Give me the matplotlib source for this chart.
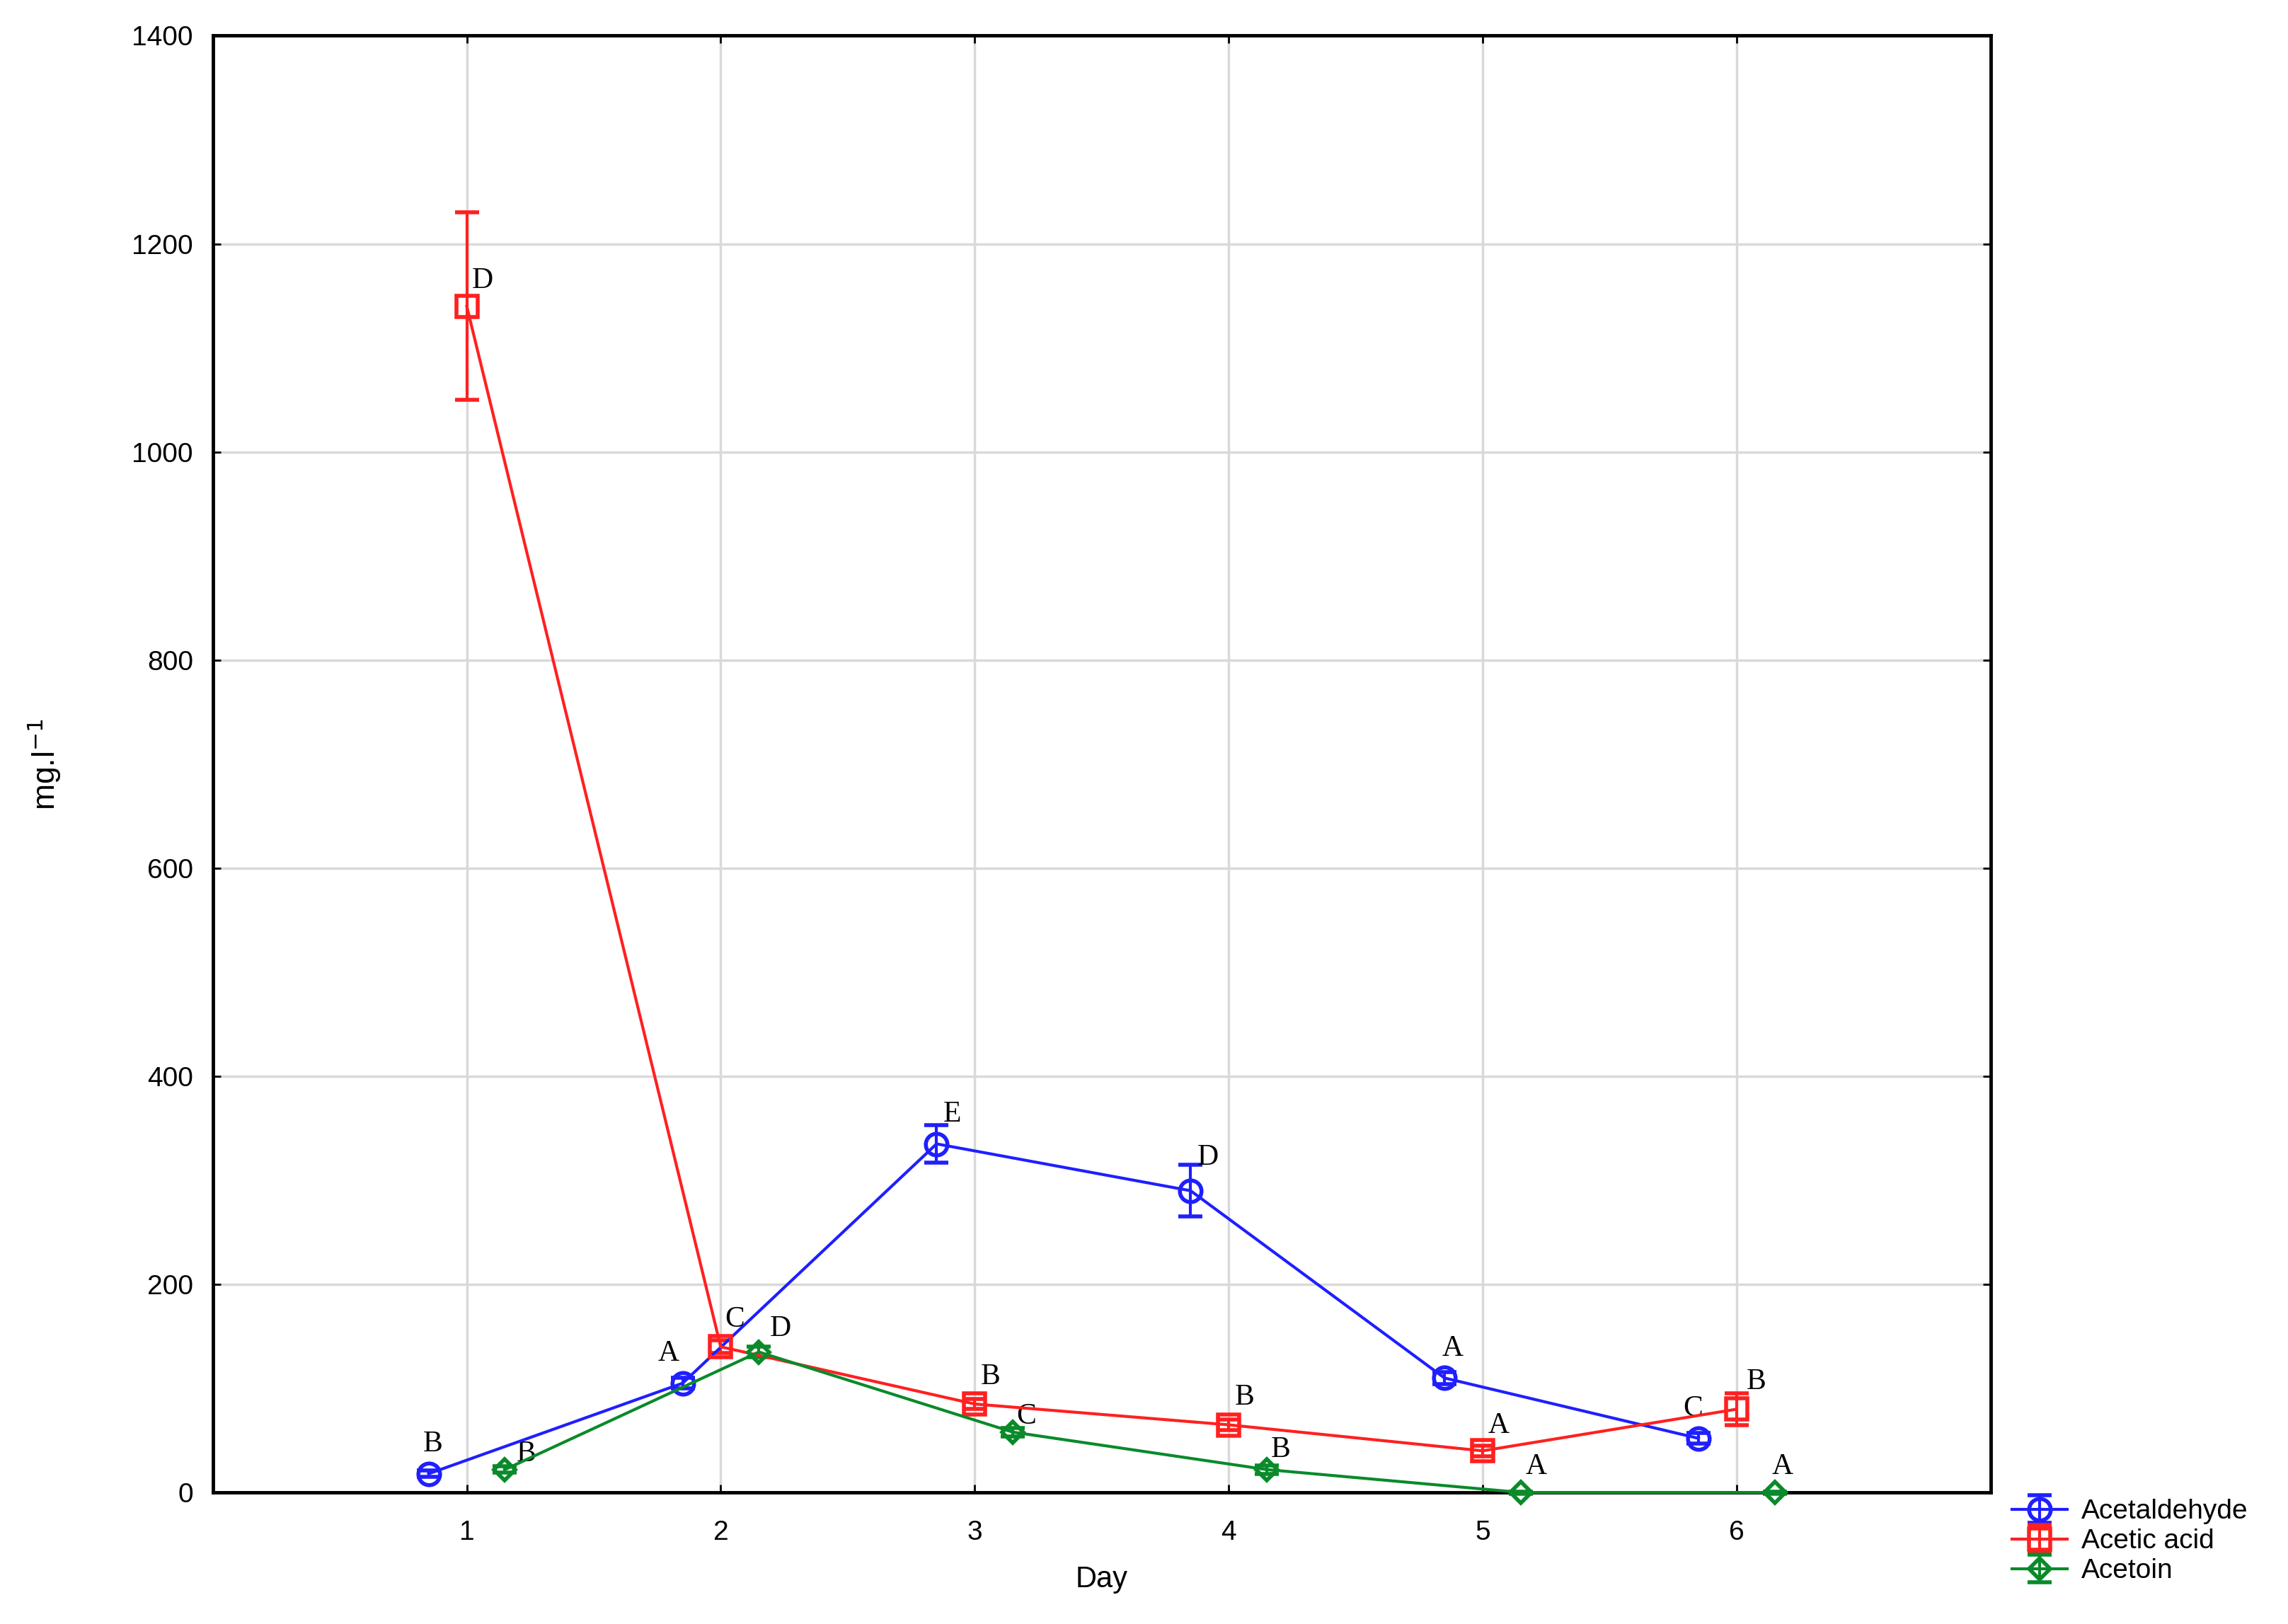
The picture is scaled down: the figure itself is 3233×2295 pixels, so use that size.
import numpy as np
import matplotlib
matplotlib.use("Agg")
import matplotlib.pyplot as plt

plt.rcParams["font.family"] = ["Liberation Sans", "DejaVu Sans"]

days = [1, 2, 3, 4, 5, 6]

acetaldehyde = [18, 105, 335, 290, 110, 52]
acetaldehyde_err = [3, 5, 18, 25, 6, 5]
acetaldehyde_letters = ["B", "A", "E", "D", "A", "C"]

acetic = [1140, 140, 85, 65, 40, 80]
acetic_err = [90, 6, 5, 5, 5, 15]
acetic_letters = ["D", "C", "B", "B", "A", "B"]

acetoin = [22, 135, 58, 22, 0, 0]
acetoin_err = [3, 5, 4, 4, 1, 1]
acetoin_letters = ["B", "D", "C", "B", "A", "A"]

series = [
    ("Acetaldehyde", acetaldehyde, acetaldehyde_err, acetaldehyde_letters, "#1f1fff", "o", -0.15,
     [(4, 16), (-14, 16), (16, 16), (18, 20), (8, 16), (-6, 16)]),
    ("Acetic acid", acetic, acetic_err, acetic_letters, "#ff2020", "s", 0.0,
     [(16, 12), (14, 14), (16, 14), (16, 14), (16, 12), (20, 14)]),
    ("Acetoin", acetoin, acetoin_err, acetoin_letters, "#0a8a2a", "D", 0.15,
     [(22, 2), (22, 10), (14, 2), (14, 6), (16, 12), (8, 12)]),
]

fig = plt.figure(figsize=(32.33, 22.95), dpi=100)
ax = fig.add_axes([0.093, 0.081, 0.777, 0.897])

for name, vals, err, letters, color, marker, shift, offs in series:
    x = np.array(days) + shift
    ms = 22 if marker != "D" else 15
    ax.errorbar(x, vals, yerr=err, color=color, marker=marker, markersize=ms,
                markerfacecolor="none", markeredgewidth=4, linewidth=3,
                capsize=12, capthick=3, elinewidth=3, label=name, clip_on=False, zorder=3)
    for xi, yi, lab, off in zip(x, vals, letters, offs):
        ax.annotate(lab, (xi, yi), xytext=off, textcoords="offset points",
                    ha="center", va="bottom", fontsize=30, family="Liberation Serif")

ax.set_xlim(0, 7)
ax.set_ylim(0, 1400)
ax.set_xticks(days)
ax.set_yticks(range(0, 1401, 200))
ax.grid(True, color="#d9d9d9", linewidth=2.5)
ax.set_axisbelow(True)
for s in ax.spines.values():
    s.set_linewidth(3.5)
ax.tick_params(labelsize=28, length=8, width=2, top=True, right=True, direction="in")
ax.tick_params(axis="x", pad=28)
ax.tick_params(axis="y", pad=20)
ax.set_xlabel("Day", fontsize=30, labelpad=20)
ax.set_ylabel("mg.l$^{-1}$", fontsize=32, labelpad=70)

ax.legend(loc="upper left", bbox_to_anchor=(1.006, 0.003), frameon=False, fontsize=28,
          handlelength=2.0, borderaxespad=0, labelspacing=0.15, handletextpad=0.5)

fig.savefig("out.png", dpi=100)
